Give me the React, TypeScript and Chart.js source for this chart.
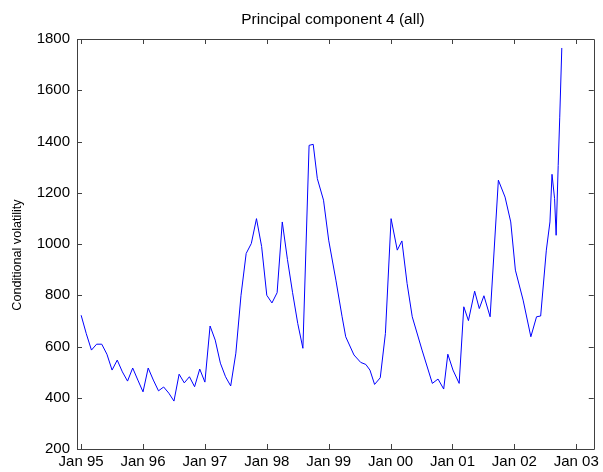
import React, { useEffect, useRef } from "react";
import { Chart, registerables } from "chart.js";

Chart.register(...registerables);

// x positions in months since Jan 1995
const months = [
  0, 1, 2, 3, 4, 5, 6, 7, 8, 9, 10, 11,
  12, 13, 14, 15, 16, 17, 18, 19, 20, 21, 22, 23,
  24, 25, 26, 27, 28, 29, 30, 31, 32, 33, 34, 35,
  36, 37, 38, 39, 40, 41, 42, 43, 44.2, 45, 45.8, 47,
  48, 49.4, 50.6, 51.3, 52.9, 54.2, 55.2, 56, 56.9, 58, 59,
  60.1, 61.3, 62.2, 63.2, 64.2, 66.1, 68.1, 69.2, 70.3, 71.1,
  72.1, 73.3, 74.2, 75.1, 76.3, 77.2, 78.1, 79.3, 80.9, 82.2, 83.3,
  84.2, 85.7, 87.2, 88.3, 89.1, 90.2, 90.9, 91.3, 91.8, 92.1, 92.5, 92.8, 93.2,
];
const volatility = [
  722, 650, 586, 609, 609, 570, 508, 547, 501, 465, 516, 469,
  423, 516, 469, 427, 442, 418, 387, 492, 458, 482, 443, 512,
  461, 680, 625, 535, 482, 446, 574, 800, 963, 1002, 1099, 990,
  800, 770, 810, 1086, 940, 810, 690, 593, 1385, 1389, 1255, 1171,
  1015, 859, 716, 638, 567, 538, 530, 508, 452, 478, 651,
  1099, 976, 1012, 846, 716, 586, 456, 473, 434, 570,
  508, 456, 755, 701, 816, 748, 798, 716, 1249, 1183, 1086,
  898, 781, 638, 716, 719, 976, 1086, 1272, 1177, 1034, 1307, 1495, 1765,
];
const xTickMonths = [0, 12, 24, 36, 48, 60, 72, 84, 96];
const xTickLabels = ["Jan 95", "Jan 96", "Jan 97", "Jan 98", "Jan 99", "Jan 00", "Jan 01", "Jan 02", "Jan 03"];
const titleText = "Principal component 4 (all)";
const yLabelText = "Conditional volatility";

const FONT = "'Liberation Sans', Arial, sans-serif";

const boxPlugin = {
  id: "matlabBox",
  afterDraw(chart: any) {
    const { ctx, chartArea } = chart;
    const { left, right, top, bottom } = chartArea;
    const xs = chart.scales.x;
    const ys = chart.scales.y;
    ctx.save();
    ctx.strokeStyle = "#404040";
    ctx.lineWidth = 1;
    ctx.beginPath();
    ctx.rect(Math.round(left) + 0.5, Math.round(top) + 0.5, Math.round(right - left), Math.round(bottom - top));
    ctx.stroke();
    const tl = 5;
    ctx.beginPath();
    xs.ticks.forEach((t: any) => {
      const px = Math.round(xs.getPixelForValue(t.value)) + 0.5;
      ctx.moveTo(px, bottom);
      ctx.lineTo(px, bottom - tl);
      ctx.moveTo(px, top);
      ctx.lineTo(px, top + tl);
    });
    ys.ticks.forEach((t: any) => {
      const py = Math.round(ys.getPixelForValue(t.value)) + 0.5;
      ctx.moveTo(left, py);
      ctx.lineTo(left + tl, py);
      ctx.moveTo(right, py);
      ctx.lineTo(right - tl, py);
    });
    ctx.stroke();
    // title
    ctx.fillStyle = "#000";
    ctx.font = `15.5px ${FONT}`;
    ctx.textAlign = "center";
    ctx.textBaseline = "middle";
    ctx.fillText(titleText, 333, 20);
    // y label
    ctx.save();
    ctx.translate(18, 255);
    ctx.rotate(-Math.PI / 2);
    ctx.font = `12.6px ${FONT}`;
    ctx.fillText(yLabelText, 0, 0);
    ctx.restore();
    ctx.restore();
  },
};

export default function App() {
  const ref = useRef<HTMLCanvasElement | null>(null);
  useEffect(() => {
    if (!ref.current) return;
    const chart = new Chart(ref.current, {
      type: "line",
      data: {
        datasets: [
          {
            data: months.map((m, i) => ({ x: m, y: volatility[i] })),
            borderColor: "#0000ff",
            borderWidth: 1,
            pointRadius: 0,
            tension: 0,
            fill: false,
          },
        ],
      },
      options: {
        animation: false,
        responsive: false,
        maintainAspectRatio: false,
        layout: { padding: { top: 39, right: 7, left: 0, bottom: 0 } },
        plugins: { legend: { display: false }, title: { display: false }, tooltip: { enabled: false } },
        scales: {
          x: {
            type: "linear",
            min: -0.8,
            max: 99.4,
            afterBuildTicks: (s: any) => {
              s.ticks = xTickMonths.map((v) => ({ value: v }));
            },
            afterFit: (s: any) => {
              s.height = 23;
            },
            grid: { display: false, drawTicks: false },
            border: { display: false },
            ticks: {
              autoSkip: false,
              maxRotation: 0,
              padding: 4,
              color: "#000",
              font: { family: FONT, size: 15 },
              callback: (v: any) => {
                const idx = xTickMonths.indexOf(Number(v));
                return idx >= 0 ? xTickLabels[idx] : "";
              },
            },
          },
          y: {
            min: 200,
            max: 1800,
            afterFit: (s: any) => {
              s.width = 77;
            },
            grid: { display: false, drawTicks: false },
            border: { display: false },
            ticks: {
              stepSize: 200,
              padding: 7,
              color: "#000",
              font: { family: FONT, size: 15 },
              callback: (v: any) => String(v),
            },
          },
        },
      },
      plugins: [boxPlugin],
    });
    return () => chart.destroy();
  }, []);
  return (
    <div style={{ position: "fixed", left: 0, top: 0, width: 603, height: 472, background: "#fff" }}>
      <canvas ref={ref} width={603} height={472} style={{ width: 603, height: 472, display: "block" }} />
    </div>
  );
}
